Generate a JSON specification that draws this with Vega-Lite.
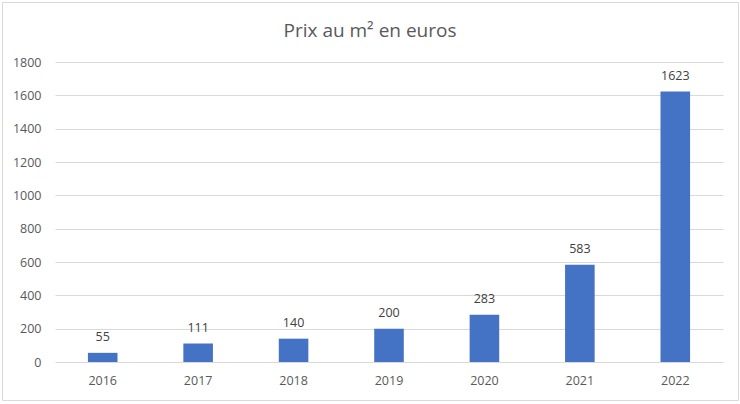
{
  "$schema": "https://vega.github.io/schema/vega-lite/v6.json",
  "width": 736,
  "height": 398,
  "autosize": "none",
  "padding": {"left": 2, "top": 2, "right": 2, "bottom": 4},
  "background": "white",
  "title": {
    "text": "Prix au m² en euros",
    "offset": -39,
    "fontSize": 19,
    "font": "Open Sans",
    "fontWeight": "normal",
    "color": "#595959"
  },
  "data": {
    "values": [
      {"annee": "2016", "prix": 55},
      {"annee": "2017", "prix": 111},
      {"annee": "2018", "prix": 140},
      {"annee": "2019", "prix": 200},
      {"annee": "2020", "prix": 283},
      {"annee": "2021", "prix": 583},
      {"annee": "2022", "prix": 1623}
    ]
  },
  "encoding": {
    "x": {
      "field": "annee",
      "type": "nominal",
      "title": null,
      "scale": {"range": [53, 721], "paddingInner": 0.69, "paddingOuter": 0.345},
      "axis": {
        "offset": -38,
        "domain": false,
        "ticks": false,
        "labelAngle": 0,
        "labelPadding": 12,
        "labelFont": "Open Sans",
        "labelFontSize": 12.5,
        "labelColor": "#595959"
      }
    },
    "y": {
      "field": "prix",
      "type": "quantitative",
      "title": null,
      "scale": {"domain": [0, 1800], "range": [360, 60], "nice": false},
      "axis": {
        "values": [0, 200, 400, 600, 800, 1000, 1200, 1400, 1600, 1800],
        "format": "d",
        "offset": -53,
        "domain": false,
        "ticks": false,
        "labelPadding": 14,
        "labelFont": "Open Sans",
        "labelFontSize": 12.5,
        "labelColor": "#595959",
        "gridColor": "#d9d9d9",
        "gridWidth": 1
      }
    }
  },
  "layer": [
    {"mark": {"type": "bar", "color": "#4472c4"}},
    {
      "mark": {
        "type": "text",
        "baseline": "bottom",
        "dy": -9,
        "font": "Open Sans",
        "fontSize": 12.5,
        "color": "#404040"
      },
      "encoding": {"text": {"field": "prix", "type": "quantitative"}}
    }
  ],
  "config": {
    "view": {"stroke": "#d9d9d9", "strokeWidth": 1}
  }
}
